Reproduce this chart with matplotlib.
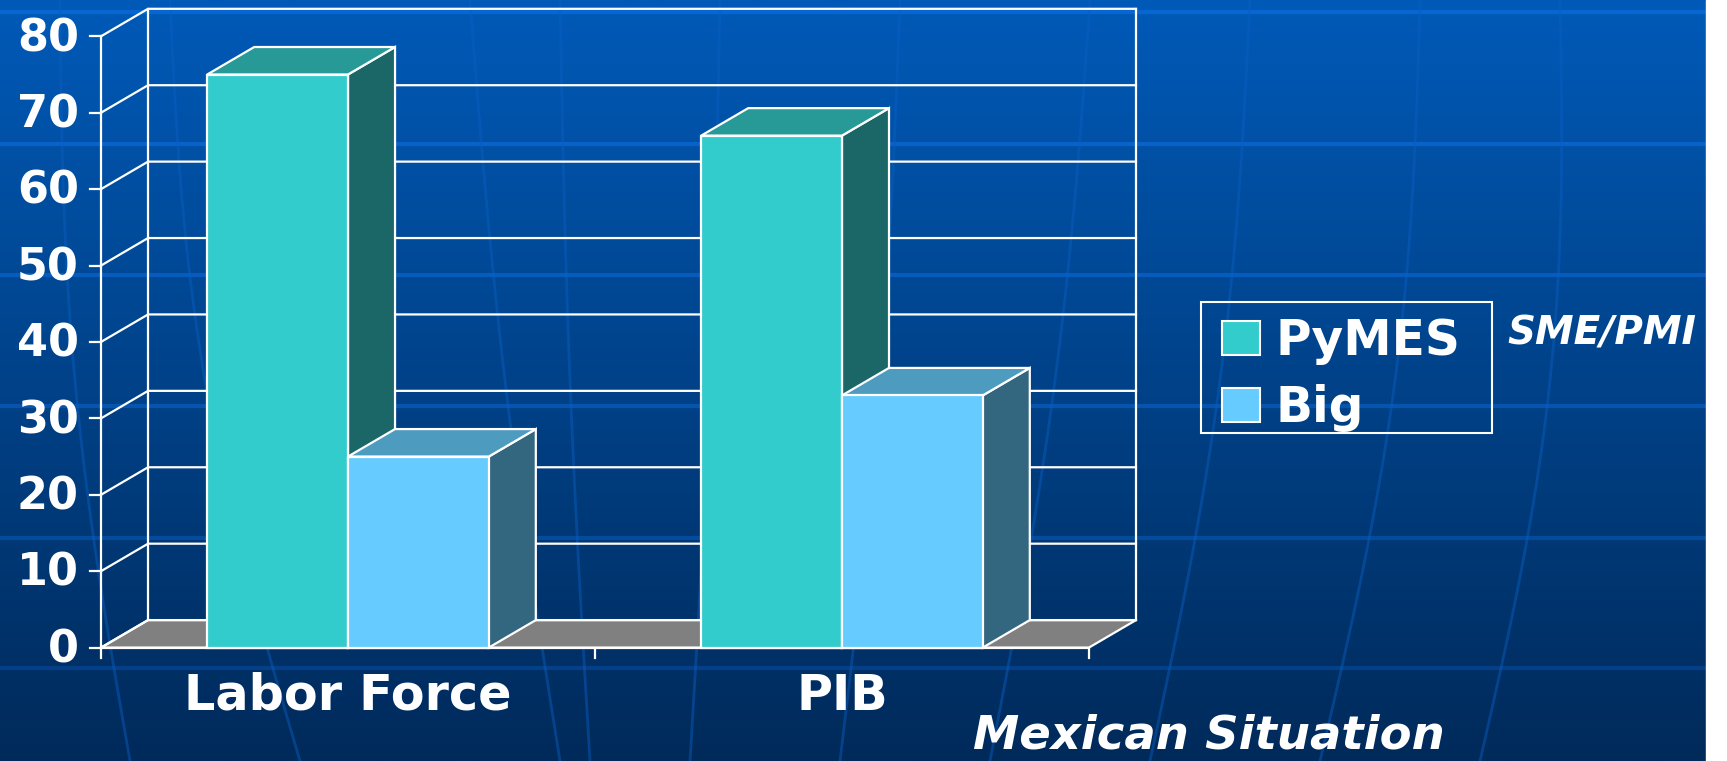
import numpy as np
import matplotlib.pyplot as plt
from matplotlib.patches import Polygon, Patch, Rectangle

# data (percent)
categories = ['Labor Force', 'PIB']
series_names = ['PyMES', 'Big']
pymes = [75, 67]
big = [25, 33]
y_ticks = [0, 10, 20, 30, 40, 50, 60, 70, 80]

# face colours: front, top, side
face_colors = {
    'PyMES': ('#33CCCC', '#279A98', '#1B6767'),
    'Big': ('#66CCFF', '#4E9BC0', '#33667F'),
}

W, H = 1727, 761
fig = plt.figure(figsize=(W / 100, H / 100), dpi=100)

# background: blue gradient with faint globe lines
bg = fig.add_axes([0, 0, 1, 1])
bg.set_xlim(0, W)
bg.set_ylim(H, 0)
bg.axis('off')
top_c = np.array([0x00, 0x5A, 0xB8]) / 255
bot_c = np.array([0x00, 0x2A, 0x5A]) / 255
t = np.linspace(0, 1, 256)[:, None]
grad = (top_c * (1 - t) + bot_c * t)[:, None, :]
bg.imshow(grad, extent=[0, W, H, 0], aspect='auto', zorder=0)
for k, yy in enumerate([12, 144, 275, 406, 538, 668]):
    bg.plot([0, W], [yy, yy], color='#0A6AD8', lw=3, alpha=0.8 - 0.1 * k, zorder=1)
tt = np.linspace(0, 1, 50)
for xt, xb, bow in [(60, 130, -20), (170, 300, -30), (470, 560, -10), (560, 590, -5),
                    (720, 690, 5), (900, 840, 10), (1090, 990, 15), (1250, 1150, 20),
                    (1420, 1320, 25), (1560, 1480, 30)]:
    xs = xt + (xb - xt) * tt + bow * np.sin(np.pi * tt)
    bg.plot(xs, tt * H, color='#0B5FC4', lw=2, alpha=0.45, zorder=1)
bg.add_patch(Rectangle((1706, 0), W - 1706, H, color='white', zorder=2))
# legend frame (drawn by hand so the padding matches)
bg.add_patch(Rectangle((1201.5, 302), 291, 131, facecolor='none', edgecolor='white',
                       lw=1.5, zorder=3))

# main chart area (front-left corner = origin)
x_left, x_right = 101, 1136
y_bottom, y_top = 647.6, 8.8
ax = fig.add_axes([x_left / W, 1 - y_bottom / H, (x_right - x_left) / W, (y_bottom - y_top) / H])
ax.patch.set_alpha(0)
ax.axis('off')

n_cat = len(categories)
px_per_cat = 493.5
px_per_val = 7.64
DX = 47 / px_per_cat
DY = 27.5 / px_per_val
BW = 0.285
ax.set_xlim(0, n_cat + DX)
ax.set_ylim(0, y_ticks[-1] + DY)

lw = 1.6
ec = 'white'

# floor
ax.add_patch(Polygon([(0, 0), (n_cat, 0), (n_cat + DX, DY), (DX, DY)], closed=True,
                     facecolor='#808080', edgecolor=ec, lw=lw, zorder=2, clip_on=False))

# walls / gridlines
for v in y_ticks:
    ax.plot([0, DX, n_cat + DX], [v, v + DY, v + DY], color=ec, lw=lw, zorder=3, clip_on=False)
ax.plot([DX, DX], [DY, y_ticks[-1] + DY], color=ec, lw=lw, zorder=3, clip_on=False)
ax.plot([n_cat + DX] * 2, [DY, y_ticks[-1] + DY], color=ec, lw=lw, zorder=3, clip_on=False)
ax.plot([0, 0], [0, y_ticks[-1]], color=ec, lw=lw, zorder=3, clip_on=False)
ax.plot([0, n_cat], [0, 0], color=ec, lw=lw, zorder=3, clip_on=False)

# ticks and labels
tx = 11 / px_per_cat
ty = 10 / px_per_val
for v in y_ticks:
    ax.plot([-tx, 0], [v, v], color=ec, lw=lw, clip_on=False)
    ax.text(-22 / px_per_cat, v - 0.3, str(v), ha='right', va='center', color='white',
            fontsize=32, fontweight='bold', family='DejaVu Sans')
for i in range(n_cat + 1):
    ax.plot([i, i], [0, -ty], color=ec, lw=lw, clip_on=False)
for i, cat in enumerate(categories):
    ax.text(i + 0.5, -48 / px_per_val, cat, ha='center', va='center', color='white',
            fontsize=35.5, fontweight='bold', family='DejaVu Sans')

# 3D bars
z = 10
for i in range(n_cat):
    for j, (name, vals) in enumerate(zip(series_names, [pymes, big])):
        v = vals[i]
        front, top, side = face_colors[name]
        x0 = i + 0.5 - BW + j * BW
        x1 = x0 + BW
        ax.add_patch(Polygon([(x1, 0), (x1 + DX, DY), (x1 + DX, v + DY), (x1, v)], closed=True,
                             facecolor=side, edgecolor=ec, lw=lw, zorder=z, clip_on=False))
        ax.add_patch(Polygon([(x0, v), (x1, v), (x1 + DX, v + DY), (x0 + DX, v + DY)], closed=True,
                             facecolor=top, edgecolor=ec, lw=lw, zorder=z, clip_on=False))
        ax.add_patch(Polygon([(x0, 0), (x1, 0), (x1, v), (x0, v)], closed=True,
                             facecolor=front, edgecolor=ec, lw=lw, zorder=z, clip_on=False))
        z += 1

# legend
handles = [Patch(facecolor=face_colors[n][0], edgecolor='white', lw=1.5) for n in series_names]
leg = fig.legend(handles, series_names, loc='upper left', bbox_to_anchor=(1207 / W, 1 - 302 / H),
                 frameon=False, borderaxespad=0, borderpad=0.3,
                 handlelength=0.8, handleheight=0.7, handletextpad=0.3, labelspacing=0.4,
                 prop={'family': 'DejaVu Sans', 'weight': 'bold', 'size': 35})
for txt in leg.get_texts():
    txt.set_color('white')

fig.text(1507 / W, 1 - 334 / H, 'SME/PMI', ha='left', va='center', color='white',
         fontsize=28, fontweight='bold', fontstyle='italic', family='DejaVu Sans')
fig.text(973 / W, 1 - 736 / H, 'Mexican Situation', ha='left', va='center', color='white',
         fontsize=33.5, fontweight='bold', fontstyle='italic', family='DejaVu Sans')

fig.savefig('out.png', dpi=100)
